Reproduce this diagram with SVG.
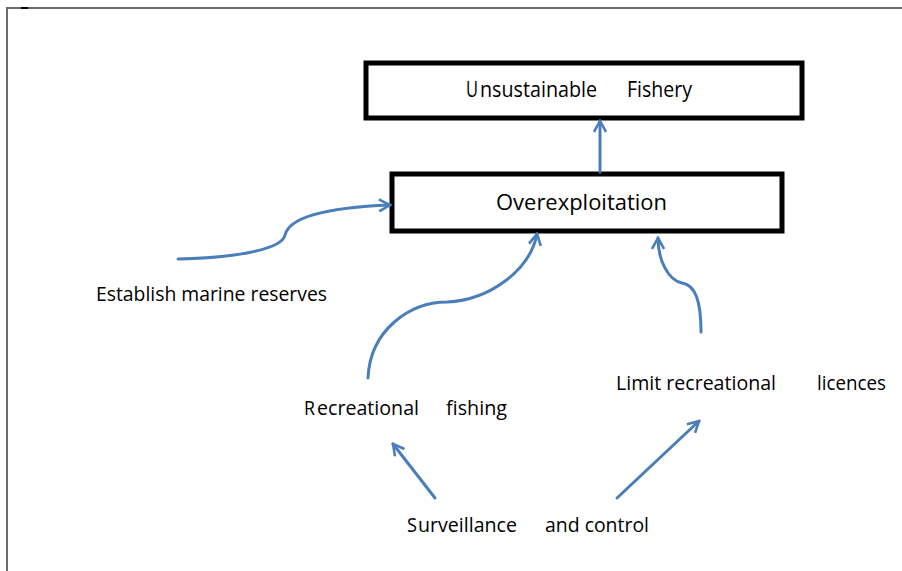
<svg xmlns="http://www.w3.org/2000/svg" width="902" height="571" viewBox="0 0 902 571">
  <defs>
    <style>
      .frame { fill: none; stroke: #6b6b6b; stroke-width: 2; }
      .box { fill: #ffffff; stroke: #000000; stroke-width: 5; }
      .lbl { font-family: "Open Sans", "Noto Sans", "Liberation Sans", sans-serif; font-size: 19.5px; fill: #000000; }
      .big { font-size: 21px; }
      .link { fill: none; stroke: #4a7ebb; stroke-width: 3; stroke-linecap: round; marker-end: url(#open); }
    </style>
    <marker id="open" viewBox="0 0 14 14" refX="12" refY="7" markerWidth="14" markerHeight="14" markerUnits="userSpaceOnUse" orient="auto">
      <path d="M1,1 L12,7 L1,13" fill="none" stroke="#4a7ebb" stroke-width="2.6"/>
    </marker>
  </defs>

  <rect width="902" height="571" fill="#ffffff"/>

  <!-- page frame -->
  <path class="frame" d="M7,571 L7,8 L902,8"/>
  <line x1="21" y1="8" x2="28" y2="8" stroke="#000" stroke-width="2"/>

  <g id="node-unsustainable-fishery">
    <rect class="box" x="366" y="63" width="436" height="55"/>
    <text class="lbl big" x="466" y="97" textLength="12" lengthAdjust="spacingAndGlyphs">U</text>
    <text class="lbl big" x="480" y="97" textLength="117" lengthAdjust="spacingAndGlyphs">nsustainable</text>
    <text class="lbl big" x="627" y="97" textLength="65" lengthAdjust="spacingAndGlyphs">Fishery</text>
  </g>

  <g id="node-overexploitation">
    <rect class="box" x="392" y="174" width="390" height="57"/>
    <text class="lbl big" x="496" y="210" textLength="171" lengthAdjust="spacingAndGlyphs">Overexploitation</text>
  </g>

  <g id="node-establish-marine-reserves">
    <text class="lbl" x="96" y="301" textLength="231" lengthAdjust="spacingAndGlyphs">Establish marine reserves</text>
  </g>

  <g id="node-recreational-fishing">
    <text class="lbl" x="304" y="415" textLength="11" lengthAdjust="spacingAndGlyphs">R</text>
    <text class="lbl" x="317" y="415" textLength="102" lengthAdjust="spacingAndGlyphs">ecreational</text>
    <text class="lbl" x="446" y="415" textLength="61" lengthAdjust="spacingAndGlyphs">fishing</text>
  </g>

  <g id="node-limit-licences">
    <text class="lbl" x="616" y="390" textLength="160" lengthAdjust="spacingAndGlyphs">Limit recreational</text>
    <text class="lbl" x="817" y="390" textLength="69" lengthAdjust="spacingAndGlyphs">licences</text>
  </g>

  <g id="node-surveillance">
    <text class="lbl" x="407" y="532" textLength="10" lengthAdjust="spacingAndGlyphs">S</text>
    <text class="lbl" x="418" y="532" textLength="99" lengthAdjust="spacingAndGlyphs">urveillance</text>
    <text class="lbl" x="545" y="532" textLength="104" lengthAdjust="spacingAndGlyphs">and control</text>
  </g>

  <g id="connectors">
    <path class="link" d="M600,172 L600,121"/>
    <path class="link" d="M178,259 C232,258 282,250 285,235 C290,214 340,207 390,205"/>
    <path class="link" d="M368,378 C370,330 410,302 447,302 C490,300 530,270 537,234"/>
    <path class="link" d="M701,332 C701,300 695,285 682,283 C668,280 658,260 658,238"/>
    <path class="link" d="M435,498 L393,444"/>
    <path class="link" d="M617,498 L699,421"/>
  </g>
</svg>
